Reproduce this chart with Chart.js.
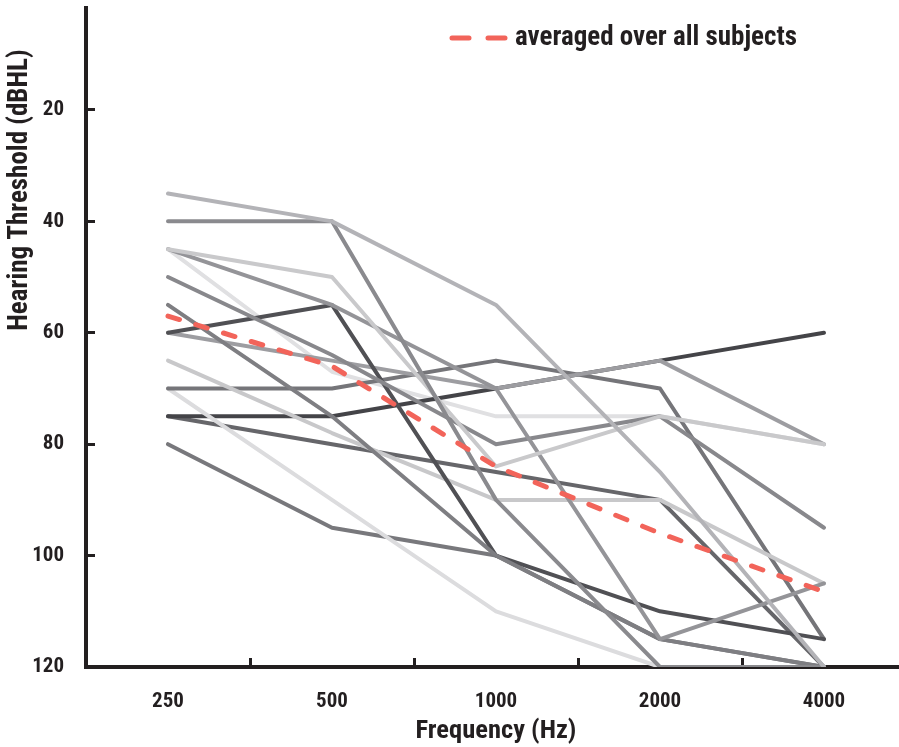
<!DOCTYPE html>
<html>
<head>
<meta charset="utf-8">
<script src="https://cdn.jsdelivr.net/npm/chart.js@4.4.1/dist/chart.umd.min.js"></script>
<style>
  html, body { margin: 0; padding: 0; background: #fff; overflow: hidden; }
  #wrap { width: 899px; height: 747px; overflow: hidden; }
</style>
</head>
<body>
<div id="wrap"><canvas id="chart" width="906" height="747"></canvas></div>
<script>
// categories and tick labels
const frequencies = ['250', '500', '1000', '2000', '4000'];
const yTicks = [20, 40, 60, 80, 100, 120];

// averaged curve
const averageThreshold = [57, 66, 84, 96, 106.5];

// single subjects (dBHL at each frequency)
const subject01 = [35, 40, 55, 85, 120];
const subject02 = [40, 40, 90, 120, 120];
const subject03 = [45, 50, 84, 75, 80];
const subject04 = [45, 55, 70, 115, 105];
const subject05 = [50, 64, 80, 75, 95];
const subject06 = [55, 75, 100, 115, 120];
const subject07 = [60, 55, 100, 110, 115];
const subject08 = [60, 65, 70, 65, 80];
const subject09 = [65, 78, 90, 90, 105];
const subject10 = [70, 70, 65, 70, 115];
const subject11 = [70, 90, 110, 120, 120];
const subject12 = [75, 75, 70, 65, 60];
const subject13 = [75, 80, 85, 90, 120];
const subject14 = [80, 95, 100, 115, 120];
const subject15 = [45, 67, 75, 75, 80];

const subjects = [subject01, subject02, subject03, subject04, subject05, subject06, subject07,
    subject08, subject09, subject10, subject11, subject12, subject13, subject14, subject15];
const subjectColors = ['#b3b3b7', '#8a8a8e', '#c9c9cb', '#949498', '#88888c', '#7e7e82', '#505054',
    '#9d9da1', '#c8c8ca', '#757579', '#dcdcde', '#444448', '#66666a', '#78787c', '#e0e0e2'];

const FONT = "'Roboto Condensed', 'DejaVu Sans Condensed', 'Liberation Sans Narrow', Roboto, sans-serif";
const INK = '#231f20';
const RED = '#f2645a';

// Draw the y title and the legend by hand
const extras = {
    id: 'extras',
    afterDraw(chart) {
        const ctx = chart.ctx;
        ctx.save();
        ctx.fillStyle = INK;
        ctx.font = `bold 27px ${FONT}`;
        ctx.textBaseline = 'middle';

        // y title
        ctx.save();
        ctx.translate(20, 190);
        ctx.rotate(-Math.PI / 2);
        ctx.textAlign = 'center';
        ctx.fillText('Hearing Threshold (dBHL)', 0, 0);
        ctx.restore();

        // legend
        const avg = chart.data.datasets[0];
        ctx.strokeStyle = avg.borderColor;
        ctx.lineWidth = 5;
        ctx.lineCap = 'round';
        ctx.setLineDash([17, 19]);
        ctx.beginPath();
        ctx.moveTo(452, 38);
        ctx.lineTo(506, 38);
        ctx.stroke();
        ctx.textAlign = 'left';
        ctx.fillText(avg.label, 515, 38);
        ctx.restore();
    }
};

document.addEventListener('DOMContentLoaded', () => {
    const ctx = document.querySelector('#chart').getContext('2d');

    const datasets = [{
        label: 'averaged over all subjects',
        data: averageThreshold,
        borderColor: RED,
        borderWidth: 5,
        borderDash: [12, 17],
        borderCapStyle: 'round',
        pointRadius: 0,
        tension: 0
    }];
    subjects.forEach((values, i) => {
        datasets.push({
            label: 'subject ' + (i + 1),
            data: values,
            borderColor: subjectColors[i],
            borderWidth: 4,
            borderCapStyle: 'round',
            borderJoinStyle: 'round',
            pointRadius: 0,
            tension: 0
        });
    });

    new Chart(ctx, {
        type: 'line',
        data: { labels: frequencies, datasets: datasets },
        options: {
            responsive: false,
            animation: false,
            devicePixelRatio: 1,
            layout: { padding: { top: 8, left: 0, right: 0, bottom: 0 } },
            plugins: { legend: { display: false }, tooltip: { enabled: false } },
            scales: {
                x: {
                    offset: true,
                    grid: { offset: true, drawOnChartArea: false, tickLength: -9, color: INK, lineWidth: 3 },
                    border: { color: INK, width: 4 },
                    ticks: { color: INK, padding: 31, font: { family: FONT, size: 21, weight: 'bold' } },
                    title: {
                        display: true, text: 'Frequency (Hz)', color: INK,
                        padding: { top: 0, bottom: 0 },
                        font: { family: FONT, size: 26.5, weight: 'bold' }
                    },
                    afterFit(s) { s.height = 80; s.paddingLeft = 0; s.paddingRight = 0; }
                },
                y: {
                    reverse: true,
                    min: 1.7,
                    max: 120,
                    grid: { drawOnChartArea: false, tickLength: -9, color: INK, lineWidth: 3 },
                    border: { color: INK, width: 4 },
                    ticks: { color: INK, padding: 31, font: { family: FONT, size: 21, weight: 'bold' } },
                    afterBuildTicks(s) { s.ticks = yTicks.map(v => ({ value: v })); },
                    afterFit(s) { s.width = 86; s.paddingTop = 0; s.paddingBottom = 0; }
                }
            }
        },
        plugins: [extras]
    });
});
</script>
</body>
</html>
